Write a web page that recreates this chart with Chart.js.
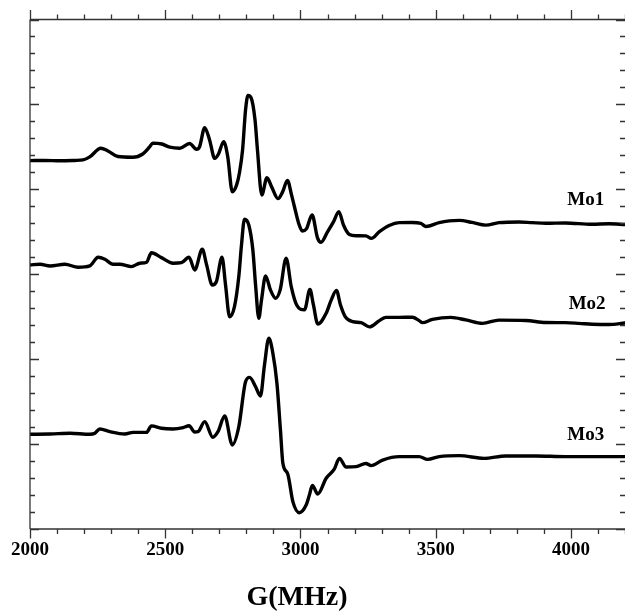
<!DOCTYPE html>
<html>
<head>
<meta charset="utf-8">
<title>EPR spectra Mo1–Mo3</title>
<script src="https://cdn.jsdelivr.net/npm/chart.js@4.4.1/dist/chart.umd.min.js"></script>
<style>
  html, body { margin: 0; padding: 0; background: #fff; overflow: hidden; }
  #wrap { width: 625px; height: 613px; }
</style>
</head>
<body>
<div id="wrap"><canvas id="c" width="625" height="613"></canvas></div>
<script>
// Field axis (MHz) and signal amplitude (arbitrary units, traces offset vertically)
const mo1Field = [2000,2055,2111,2166,2196,2221,2262,2288,2325,2380,2417,2443,2454,2487,2517,2554,2590,2616,2627,2646,2664,2683,2697,2716,2731,2748,2764,2775,2786,2797,2806,2817,2832,2841,2857,2876,2893,2917,2934,2952,2967,2978,2993,3007,3022,3043,3063,3076,3100,3122,3142,3159,3181,3206,3242,3262,3292,3328,3365,3413,3445,3464,3513,3550,3587,3635,3685,3734,3808,3856,3907,3980,4077,4140,4200];
const mo1Signal = [21.69,21.70,21.68,21.70,21.73,21.91,22.42,22.26,21.93,21.89,22.08,22.51,22.72,22.67,22.48,22.42,22.70,22.36,22.51,23.63,22.91,21.82,22.08,22.81,21.93,19.86,20.26,21.02,22.32,24.68,25.53,25.41,24.09,22.32,19.67,20.68,20.16,19.45,19.85,20.52,19.67,18.96,18.02,17.55,17.67,18.49,17.14,16.88,17.49,18.08,18.69,17.90,17.34,17.27,17.26,17.11,17.51,17.87,18.04,18.05,18.00,17.81,18.04,18.14,18.17,18.05,17.89,18.04,18.08,18.04,18.00,18.02,17.94,17.97,17.93];

const mo2Field = [2000,2037,2074,2129,2178,2221,2252,2277,2307,2332,2375,2406,2431,2449,2486,2529,2560,2588,2609,2637,2653,2674,2689,2710,2723,2738,2756,2772,2782,2793,2809,2824,2834,2846,2856,2871,2889,2908,2925,2947,2966,2986,3015,3035,3048,3064,3095,3114,3133,3148,3166,3193,3224,3255,3292,3316,3365,3414,3439,3451,3488,3556,3611,3673,3734,3833,3907,3980,4030,4079,4140,4200];
const mo2Signal = [15.55,15.59,15.49,15.59,15.41,15.49,16.00,15.88,15.59,15.59,15.45,15.65,15.71,16.27,15.98,15.65,15.68,16.00,15.25,16.47,15.55,14.37,14.56,16.00,14.37,12.50,13.09,14.86,16.73,18.24,17.90,16.43,14.37,12.41,13.49,14.90,14.08,13.59,14.08,15.94,14.27,13.19,12.90,14.10,13.19,12.07,12.70,13.49,14.05,13.19,12.49,12.21,12.15,11.90,12.27,12.46,12.46,12.47,12.27,12.15,12.34,12.46,12.31,12.11,12.30,12.28,12.16,12.15,12.11,12.06,12.04,12.13];

const mo3Field = [2000,2074,2148,2221,2240,2258,2295,2351,2381,2431,2449,2486,2529,2566,2588,2609,2621,2646,2676,2695,2720,2748,2772,2797,2812,2834,2852,2867,2883,2898,2913,2926,2935,2953,2972,2996,3021,3033,3044,3064,3095,3125,3144,3169,3206,3242,3261,3304,3365,3439,3470,3513,3587,3679,3759,3870,3980,4103,4200];
const mo3Signal = [5.58,5.59,5.64,5.58,5.64,5.89,5.73,5.59,5.69,5.69,6.07,5.93,5.89,5.97,6.08,5.71,5.73,6.32,5.40,5.73,6.65,4.95,6.02,8.67,8.93,8.38,7.83,9.66,11.23,10.35,8.58,5.83,3.87,3.24,1.61,0.96,1.41,2.00,2.56,2.06,2.99,3.52,4.16,3.65,3.67,3.86,3.73,4.06,4.26,4.26,4.10,4.26,4.32,4.16,4.30,4.30,4.26,4.26,4.26];

const seriesNames = ['Mo1', 'Mo2', 'Mo3'];
// where each trace name sits, in data units (field, amplitude)
const nameAnchors = [[4055, 19.38], [4060, 13.25], [4055, 5.54]];

const xTickLabels = [2000, 2500, 3000, 3500, 4000];
const axisTitle = 'G(MHz)';

const pairs = (xs, ys) => xs.map((x, i) => ({ x: x, y: ys[i] }));

const serif = '"Liberation Serif", "Times New Roman", serif';

// Boxed frame with tick marks: outward on top/bottom, inward on left/right
const framePlugin = {
  id: 'frame',
  afterDraw(chart) {
    const ctx = chart.ctx;
    const a = chart.chartArea;
    const xs = chart.scales.x, ys = chart.scales.y;
    ctx.save();
    ctx.strokeStyle = '#333';
    ctx.lineWidth = 1.3;
    ctx.beginPath();
    ctx.moveTo(a.left, a.top); ctx.lineTo(a.right, a.top);
    ctx.moveTo(a.left, a.bottom); ctx.lineTo(a.right, a.bottom);
    ctx.moveTo(a.left, a.top); ctx.lineTo(a.left, a.bottom);
    for (let v = xs.min; v <= xs.max; v += 100) {
      const px = Math.round(xs.getPixelForValue(v)) + 0.5;
      const len = (v % 500 === 0) ? 9.5 : 5;
      ctx.moveTo(px, a.top); ctx.lineTo(px, a.top - len);
      ctx.moveTo(px, a.bottom); ctx.lineTo(px, a.bottom + len);
    }
    for (let v = ys.min; v <= ys.max; v += 1) {
      const py = Math.round(ys.getPixelForValue(v)) + 0.5;
      const len = (v % 5 === 0) ? 9 : 5;
      ctx.moveTo(a.left, py); ctx.lineTo(a.left + len, py);
      ctx.moveTo(a.right, py); ctx.lineTo(a.right - len, py);
    }
    ctx.stroke();

    // trace names
    ctx.fillStyle = '#000';
    ctx.font = 'bold 19px ' + serif;
    ctx.textAlign = 'center';
    ctx.textBaseline = 'middle';
    seriesNames.forEach((name, i) => {
      const [fx, fy] = nameAnchors[i];
      ctx.fillText(name, xs.getPixelForValue(fx), ys.getPixelForValue(fy));
    });

    // axis title
    ctx.font = 'bold 28px ' + serif;
    ctx.textBaseline = 'alphabetic';
    ctx.fillText(axisTitle, 297, 605);
    ctx.restore();
  }
};

const lineStyle = {
  borderColor: '#000',
  borderWidth: 3.4,
  pointRadius: 0,
  fill: false,
  cubicInterpolationMode: 'monotone',
  borderJoinStyle: 'round',
  borderCapStyle: 'round'
};

new Chart(document.getElementById('c'), {
  type: 'line',
  data: {
    datasets: [
      Object.assign({ label: seriesNames[0], data: pairs(mo1Field, mo1Signal) }, lineStyle),
      Object.assign({ label: seriesNames[1], data: pairs(mo2Field, mo2Signal) }, lineStyle),
      Object.assign({ label: seriesNames[2], data: pairs(mo3Field, mo3Signal) }, lineStyle)
    ]
  },
  options: {
    responsive: false,
    animation: false,
    devicePixelRatio: 1,
    layout: { padding: { left: 30, top: 19.5, right: 0, bottom: 0 } },
    plugins: { legend: { display: false }, tooltip: { enabled: false } },
    scales: {
      x: {
        type: 'linear',
        min: 2000,
        max: 4200,
        border: { display: false },
        grid: { display: false, drawTicks: false },
        ticks: {
          autoSkip: false,
          maxRotation: 0,
          padding: 10,
          color: '#000',
          font: { family: serif, size: 19, weight: 'bold' },
          callback: (v) => String(v)
        },
        afterBuildTicks: (s) => { s.ticks = xTickLabels.map(v => ({ value: v })); },
        afterFit: (s) => { s.height = 84; s.paddingLeft = 0; s.paddingRight = 0; }
      },
      y: {
        type: 'linear',
        min: 0,
        max: 30,
        display: false
      }
    }
  },
  plugins: [framePlugin]
});
</script>
</body>
</html>
